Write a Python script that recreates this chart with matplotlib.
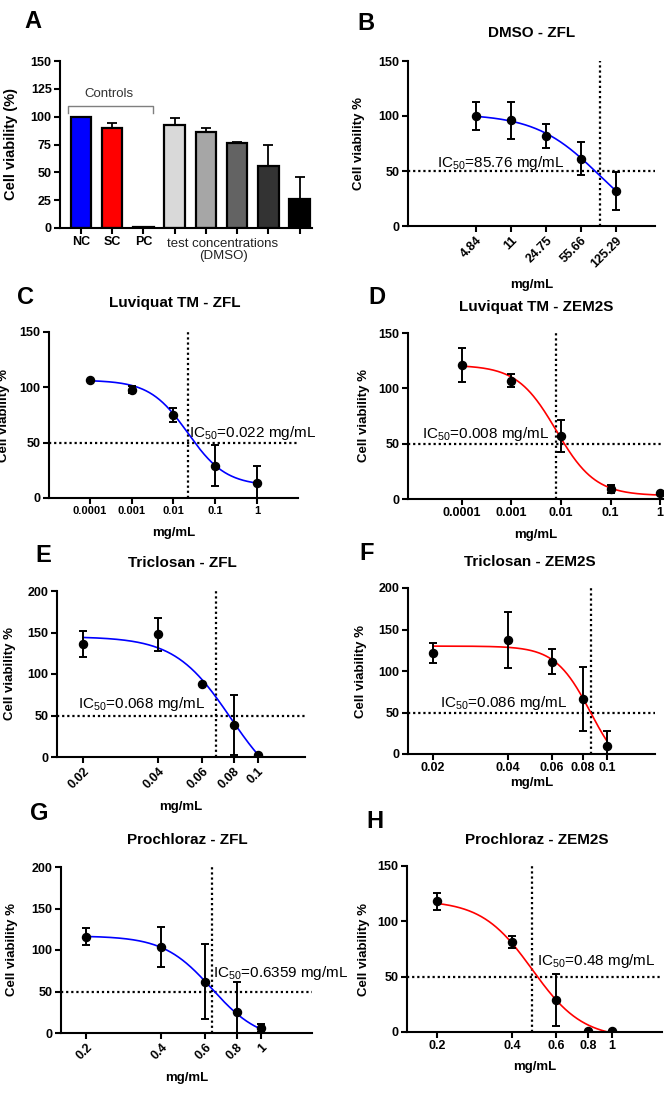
import numpy as np
import matplotlib
matplotlib.use('Agg')
import matplotlib.pyplot as plt

plt.rcParams['font.family'] = ['Liberation Sans', 'DejaVu Sans']

# ---------------- data ----------------
# Panel A (bar chart)
A_labels = ['NC', 'SC', 'PC', 'T1', 'T2', 'T3', 'T4', 'T5']
A_values = [100, 89.5, 1, 92.5, 86, 76, 56, 26]
A_err = [0, 4.5, 0, 6.5, 4, 1, 19, 20]
A_colors = ['#0000ff', '#ff0000', '#ffffff', '#d9d9d9', '#a6a6a6', '#636363', '#333333', '#000000']

# Panel B  DMSO - ZFL
B_conc = [4.84, 11, 24.75, 55.66, 125.29]
B_mean = [100, 96, 82, 61, 32]
B_sd = [13, 17, 11, 15, 17.5]
B_ic50 = 85.76
B_fit = (102, -10, 85.76, 1.34)      # top, bottom, EC, hill

# Panel C  Luviquat TM - ZFL
C_conc = [0.0001, 0.001, 0.01, 0.1, 1]
C_mean = [107, 98, 75, 29, 14]
C_sd = [0, 3, 6.5, 18.5, 15]
C_ic50 = 0.022
C_fit = (106.5, 11, 0.022, 0.95)

# Panel D  Luviquat TM - ZEM2S
D_conc = [0.0001, 0.001, 0.01, 0.1, 1]
D_mean = [121, 107, 57, 9, 5]
D_sd = [15, 6, 14.5, 4, 0]
D_ic50 = 0.008
D_fit = (121, 3, 0.008, 1.1)

# Panel E  Triclosan - ZFL
E_conc = [0.02, 0.04, 0.06, 0.08, 0.1]
E_mean = [136, 148, 88, 39, 3]
E_sd = [16, 20, 0, 36, 0]
E_ic50 = 0.068
E_fit = (145, -50, 0.0776, 3.9)

# Panel F  Triclosan - ZEM2S
F_conc = [0.02, 0.04, 0.06, 0.08, 0.1]
F_mean = [122, 137, 111, 66, 10]
F_sd = [12, 33.5, 15, 38.5, 18]
F_ic50 = 0.086
F_fit = (130, -30, 0.086, 6.1)

# Panel G  Prochloraz - ZFL
G_conc = [0.2, 0.4, 0.6, 0.8, 1]
G_mean = [116, 104, 62, 25, 6]
G_sd = [10, 24, 45.5, 37, 5]
G_ic50 = 0.6359
G_fit = (117, -10, 0.6359, 4.5)

# Panel H  Prochloraz - ZEM2S
H_conc = [0.2, 0.4, 0.6, 0.8, 1]
H_mean = [118, 81, 29, 1, 1]
H_sd = [7.5, 5.5, 23.5, 0, 0]
H_ic50 = 0.48
H_fit = (119, -6, 0.48, 4.3)

# ---------------- figure ----------------
W, H = 665, 1096
fig = plt.figure(figsize=(W / 100, H / 100), dpi=100)


def add_ax(box):
    l, t, r, b = box
    return fig.add_axes([l / W, 1 - b / H, (r - l) / W, (b - t) / H])


def fx(box, px):
    return (px - box[0]) / (box[2] - box[0])


def fy(box, py):
    return (box[3] - py) / (box[3] - box[1])


def base_style(ax):
    for s in ['top', 'right']:
        ax.spines[s].set_visible(False)
    for s in ['left', 'bottom']:
        ax.spines[s].set_linewidth(1.5)
    ax.tick_params(width=1.5, length=4, direction='out', pad=2)
    ax.minorticks_off()


def letter(px, py, s):
    fig.text(px / W, 1 - py / H, s, fontsize=17, fontweight='bold', ha='center', va='center')


# ---------------- Panel A ----------------
boxA = (60, 61, 312, 228)
axA = add_ax(boxA)
base_style(axA)
xa = np.arange(len(A_values))
axA.bar(xa, A_values, width=0.66, color=A_colors, edgecolor='black', linewidth=1.6, zorder=2)
axA.errorbar(xa, A_values, yerr=[np.zeros(len(A_err)), A_err], fmt='none', ecolor='black',
             elinewidth=1.3, capsize=3.5, capthick=1.3, zorder=1)
axA.set_xlim(-0.67, 7.4)
axA.set_ylim(0, 150)
axA.set_yticks([0, 25, 50, 75, 100, 125, 150])
axA.set_yticklabels(['0', '25', '50', '75', '100', '125', '150'], fontsize=9, fontweight='bold')
axA.set_xticks(xa)
axA.set_xticklabels(['NC', 'SC', 'PC', '', '', '', '', ''], fontsize=9, fontweight='bold')
axA.set_ylabel('Cell viability (%)', fontsize=10.5, fontweight='bold')
axA.yaxis.set_label_coords(fx(boxA, 18), 0.5)
axA.text(fx(boxA, 223), fy(boxA, 250), 'test concentrations\n(DMSO)', transform=axA.transAxes,
         ha='center', va='center', fontsize=9.5, linespacing=1.1, color='#222222')
# controls bracket
axA.plot([-0.4, -0.4, 2.3, 2.3], [103.3, 109.6, 109.6, 103.3], color='#7f7f7f', lw=1.0, clip_on=False)
axA.text(0.9, 120, 'Controls', ha='center', va='center', fontsize=9.5, color='#333333')
letter(33, 22, 'A')


# ---------------- dose-response panels ----------------
def four_pl(x, p):
    top, bot, ec, h = p
    return bot + (top - bot) / (1 + (x / ec) ** h)


def ic_label(v):
    return '%g' % v


def dose_panel(box, conc, mean, sd, fit, ic50, color, lxlim, ymax, ystep, xtl, rotate,
               title, title_pos, let, let_pos, ylab_x, xlab_y, ic_pos, xtsize=9):
    ax = add_ax(box)
    base_style(ax)
    ax.set_xscale('log')
    ax.set_xlim(10 ** lxlim[0], 10 ** lxlim[1])
    ax.set_ylim(0, ymax)
    ax.minorticks_off()
    xs = np.logspace(np.log10(conc[0]), np.log10(conc[-1]), 400)
    ax.plot(xs, four_pl(xs, fit), color=color, lw=1.2, zorder=2)
    ax.errorbar(conc, mean, yerr=sd, fmt='o', color='black', ms=5.8, elinewidth=1.4,
                capsize=2.8, capthick=1.4, zorder=3)
    ax.axhline(50, color='black', ls=(0, (1, 1.3)), lw=1.6, zorder=1)
    ax.axvline(ic50, color='black', ls=(0, (1, 1.3)), lw=1.6, zorder=1)
    yt = np.arange(0, ymax + 1, ystep)
    ax.set_yticks(yt)
    ax.set_yticklabels([str(int(v)) for v in yt], fontsize=9, fontweight='bold')
    ax.set_xticks(conc)
    if rotate:
        ax.set_xticklabels(xtl, fontsize=xtsize, fontweight='bold', rotation=45,
                           ha='right', rotation_mode='anchor')
    else:
        ax.set_xticklabels(xtl, fontsize=xtsize, fontweight='bold')
    ax.set_ylabel('Cell viability %', fontsize=9.5, fontweight='bold')
    ax.yaxis.set_label_coords(fx(box, ylab_x), 0.5)
    ax.set_xlabel('mg/mL', fontsize=9.5, fontweight='bold', va='center')
    ax.xaxis.set_label_coords(0.5, fy(box, xlab_y))
    ax.text(fx(box, title_pos[0]), fy(box, title_pos[1]), title, transform=ax.transAxes,
            ha='center', va='center', fontsize=11, fontweight='bold')
    ax.text(fx(box, ic_pos[0]), fy(box, ic_pos[1]),
            r'IC$_{\mathregular{50}}$=' + ic_label(ic50) + ' mg/mL', transform=ax.transAxes,
            ha='left', va='baseline', fontsize=11, clip_on=False)
    letter(let_pos[0], let_pos[1], let)
    return ax


dose_panel((408, 61, 655, 226), B_conc, B_mean, B_sd, B_fit, B_ic50, '#0000ff',
           (-0.002, 2.493), 150, 50, ['4.84', '11', '24.75', '55.66', '125.29'], True,
           'DMSO - ZFL', (532, 33), 'B', (366, 24), 365, 285, (437, 167))

dose_panel((49, 332, 298, 498), C_conc, C_mean, C_sd, C_fit, C_ic50, '#0000ff',
           (-4.98, 0.98), 150, 50, ['0.0001', '0.001', '0.01', '0.1', '1'], False,
           'Luviquat TM - ZFL', (175, 303), 'C', (25, 298), 10, 533, (189, 437), xtsize=8)

dose_panel((408, 333, 663, 499), D_conc, D_mean, D_sd, D_fit, D_ic50, '#ff0000',
           (-5.09, 0.06), 150, 50, ['0.0001', '0.001', '0.01', '0.1', '1'], False,
           'Luviquat TM - ZEM2S', (536, 307), 'D', (377, 297), 370, 535, (422, 438))

dose_panel((57, 591, 305, 757), E_conc, E_mean, E_sd, E_fit, E_ic50, '#0000ff',
           (-1.803, -0.812), 200, 50, ['0.02', '0.04', '0.06', '0.08', '0.1'], True,
           'Triclosan - ZFL', (182, 563), 'E', (43, 555), 16, 807, (78, 708))

dose_panel((408, 588, 655, 754), F_conc, F_mean, F_sd, F_fit, F_ic50, '#ff0000',
           (-1.799, -0.807), 200, 50, ['0.02', '0.04', '0.06', '0.08', '0.1'], False,
           'Triclosan - ZEM2S', (530, 562), 'F', (367, 554), 367, 783, (440, 707))

dose_panel((61, 867, 312, 1033), G_conc, G_mean, G_sd, G_fit, G_ic50, '#0000ff',
           (-0.799, 0.204), 200, 50, ['0.2', '0.4', '0.6', '0.8', '1'], True,
           'Prochloraz - ZFL', (187, 840), 'G', (39, 813), 18, 1078, (213, 977))

dose_panel((407, 866, 662, 1032), H_conc, H_mean, H_sd, H_fit, H_ic50, '#ff0000',
           (-0.819, 0.2), 150, 50, ['0.2', '0.4', '0.6', '0.8', '1'], False,
           'Prochloraz - ZEM2S', (537, 840), 'H', (375, 822), 370, 1067, (537, 965))

fig.savefig('out.png', dpi=100)
